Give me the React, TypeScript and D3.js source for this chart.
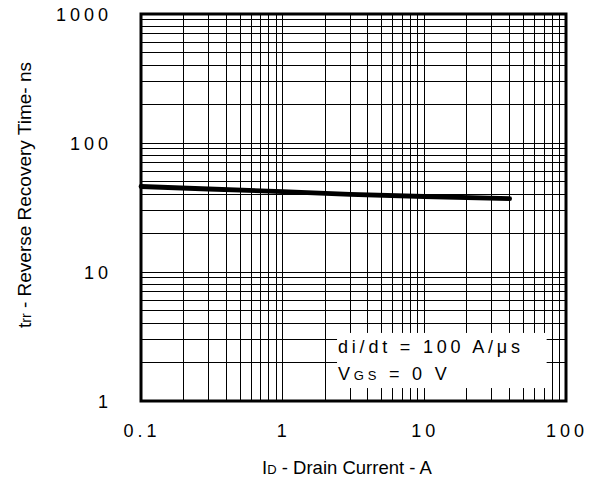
import React from "react";
import * as d3 from "d3";

const xTickValues = [0.1, 1, 10, 100];
const xTickLabels = ["0.1", "1", "10", "100"];
const yTickValues = [1, 10, 100, 1000];
const yTickLabels = ["1", "10", "100", "1000"];
const currentA = [0.1, 0.3, 1, 3, 10, 40];
const trrNs = [46, 44, 42, 40, 38.5, 37];

const W = 595;
const H = 480;
const left = 141;
const right = 566;
const top = 14;
const bottom = 401;
const FONT = "'Liberation Sans', Arial, Helvetica, sans-serif";

export default function App() {
  const x = d3.scaleLog().domain([0.1, 100]).range([left, right]);
  const y = d3.scaleLog().domain([1, 1000]).range([bottom, top]);

  const xGrid: number[] = [];
  [0.1, 1, 10].forEach((d) => {
    for (let m = 1; m <= 9; m++) {
      const v = d * m;
      if (m !== 1 || d !== 0.1) xGrid.push(v);
    }
  });
  const yGrid: number[] = [];
  [1, 10, 100].forEach((d) => {
    for (let m = 1; m <= 9; m++) {
      const v = d * m;
      if (m !== 1 || d !== 1) yGrid.push(v);
    }
  });

  const line = d3
    .line<number>()
    .x((_, i) => x(currentA[i]))
    .y((v) => y(v));

  // legend box (white area)
  const boxX0 = x(2.42);
  const boxX1 = x(73);
  const boxY0 = y(3.37);
  const boxY1 = y(1.26);

  return (
    <svg
      width={W}
      height={H}
      style={{ position: "absolute", left: 0, top: 0, background: "#fff" }}
      fontFamily={FONT}
    >
      <rect x={0} y={0} width={W} height={H} fill="#fff" />
      <g stroke="#000" strokeWidth={1} shapeRendering="crispEdges">
        {xGrid.map((v) => (
          <line key={"xg" + v} x1={x(v)} x2={x(v)} y1={top} y2={bottom} />
        ))}
        {yGrid.map((v) => (
          <line key={"yg" + v} x1={left} x2={right} y1={y(v)} y2={y(v)} />
        ))}
      </g>
      <rect x={boxX0} y={boxY0} width={boxX1 - boxX0} height={boxY1 - boxY0} fill="#fff" />
      <path
        d={line(trrNs) || ""}
        fill="none"
        stroke="#000"
        strokeWidth={4.8}
        strokeLinecap="round"
      />
      <rect
        x={left}
        y={top}
        width={right - left}
        height={bottom - top}
        fill="none"
        stroke="#000"
        strokeWidth={3}
      />
      <g fontSize={18} fill="#000" letterSpacing={4}>
        {xTickValues.map((v, i) => (
          <text key={"xt" + v} x={x(v) + 1} y={437} textAnchor="middle">
            {xTickLabels[i]}
          </text>
        ))}
        {yTickValues.map((v, i) => (
          <text key={"yt" + v} x={112} y={y(v) + 6.5} textAnchor="end">
            {yTickLabels[i]}
          </text>
        ))}
      </g>
      <g fontSize={18} fill="#000" letterSpacing={3.8}>
        <text x={338} y={353}>di/dt = 100 A/μs</text>
        <text x={338} y={380}>
          V<tspan fontSize={13}>GS</tspan> = 0 V
        </text>
      </g>
      <text x={347} y={474} fontSize={18.5} textAnchor="middle" fill="#000">
        I<tspan fontSize={13}>D</tspan> - Drain Current - A
      </text>
      <text
        transform={`translate(31,195) rotate(-90)`}
        fontSize={19}
        textAnchor="middle"
        fill="#000"
      >
        t<tspan fontSize={14}>rr</tspan> - Reverse Recovery Time- ns
      </text>
    </svg>
  );
}
